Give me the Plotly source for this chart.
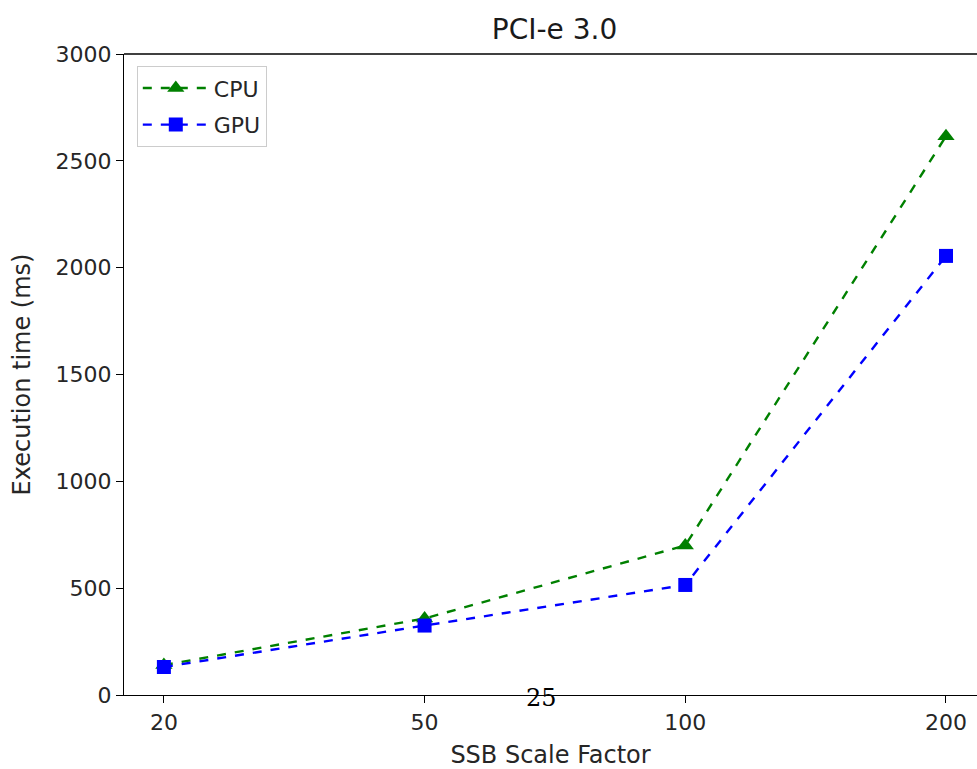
import plotly.graph_objects as go

categories = ["20", "50", "100", "200"]
cpu = [140, 358, 700, 2615]
gpu = [131, 325, 515, 2055]
y_ticks = [0, 500, 1000, 1500, 2000, 2500, 3000]

W, H = 977, 769
L, T, B = 124, 54, 74
xpos = list(range(len(categories)))

fig = go.Figure()
fig.add_trace(go.Scatter(x=xpos, y=cpu, name="CPU", mode="lines+markers", legendgroup="a",
                         line=dict(color="#008000", width=2.4, dash="dash"),
                         marker=dict(symbol="triangle-up", size=15, color="#008000")))
fig.add_trace(go.Scatter(x=xpos, y=gpu, name="GPU", mode="lines+markers", legendgroup="b",
                         line=dict(color="#0000ff", width=2.4, dash="dash"),
                         marker=dict(symbol="square", size=14, color="#0000ff")))

font = "DejaVu Sans"
fig.update_layout(
    width=W, height=H,
    margin=dict(l=L, r=0, t=T, b=B),
    paper_bgcolor="white", plot_bgcolor="white",
    font=dict(family=font, size=22, color="#262626"),
    title=dict(text="PCI-e 3.0", x=(L + 985) / 2 / W, xanchor="center",
               y=1 - 29 / H, yanchor="middle", font=dict(size=28, color="#1a1a1a")),
    xaxis=dict(range=[-0.153, 3.119], tickvals=xpos, ticktext=categories,
               showgrid=False, zeroline=False, showline=True, linecolor="black",
               linewidth=1.3, ticks="outside", ticklen=7, tickcolor="black",
               tickfont=dict(size=22),
               title=dict(text="SSB Scale Factor", font=dict(size=24), standoff=12)),
    yaxis=dict(range=[0, 3000], tickvals=y_ticks, showgrid=False, zeroline=False,
               showline=True, linecolor="black", linewidth=1.3, ticks="outside",
               ticklen=7, tickcolor="black", tickfont=dict(size=22),
               title=dict(text="Execution time (ms)", font=dict(size=24), standoff=18)),
    legend=dict(x=0.015, y=0.981, xanchor="left", yanchor="top",
                bgcolor="rgba(255,255,255,0.8)", bordercolor="#cccccc", borderwidth=1,
                font=dict(size=22), itemwidth=66, tracegroupgap=5),
    showlegend=True,
)
fig.add_shape(type="line", xref="paper", yref="paper", x0=0, x1=1, y0=1, y1=1,
              line=dict(color="black", width=1.3))
fig.add_annotation(text="25", xref="paper", yref="paper",
                   x=(541 - L) / (W - L), y=-(698 - (H - B)) / (H - T - B),
                   xanchor="center", yanchor="middle", showarrow=False,
                   font=dict(family="DejaVu Serif", size=24, color="black"))
fig.write_html("out.html")
